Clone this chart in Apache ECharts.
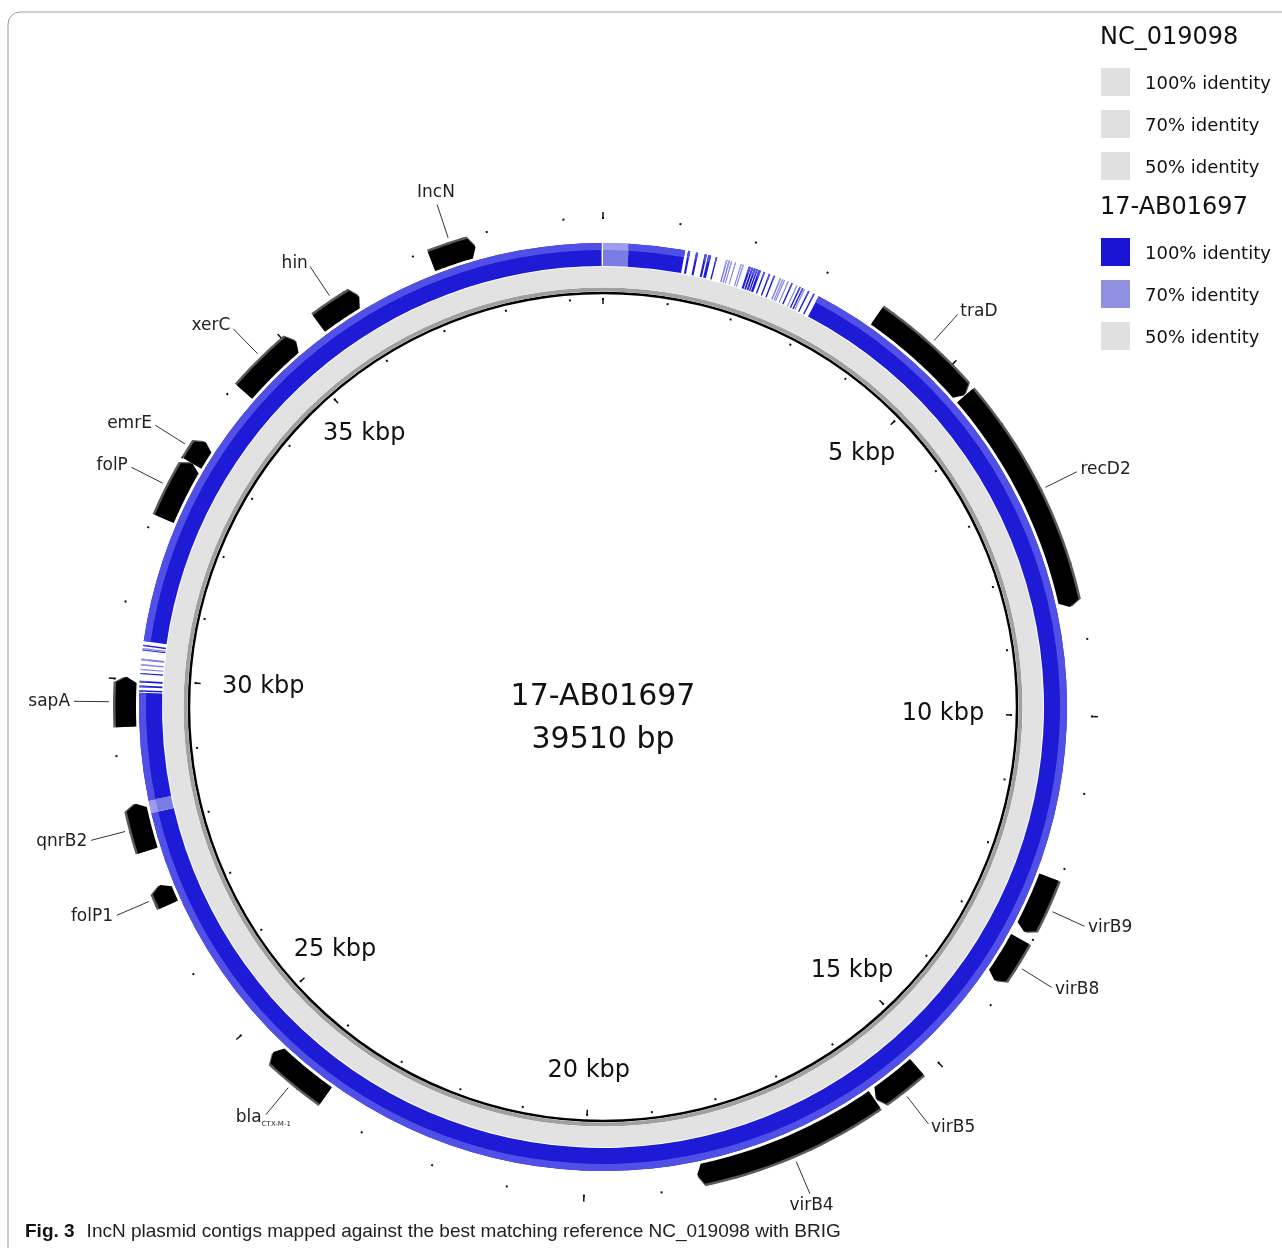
<!DOCTYPE html>
<head>
    <meta charset="utf-8">
    <title>IncN plasmid BRIG map</title>
    <style>
        html, body {
            width: 100%;
            height: 100%;
            margin: 0;
            background: #fff;
        }
        #main {
            width: 1282px;
            height: 1248px;
        }
    </style>
</head>
<body>
<div id="main"></div>
<script src="https://cdn.jsdelivr.net/npm/echarts@6/dist/echarts.min.js"></script>
<script type="text/javascript">
  var genomeLength = 39510;

  // NC_019098 ring (reference, drawn all grey)
  var refHits = [[0, 39510]];

  // 17-AB01697 ring: [start, end, identity %]
  var queryHits = [
    [0, 350, 70],
    [350, 1120, 100],
    [1160, 1190, 100], [1270, 1300, 100], [1390, 1420, 100], [1440, 1480, 100], [1545, 1565, 100],
    [1690, 1710, 70], [1725, 1745, 70], [1760, 1775, 70], [1815, 1830, 70], [1895, 1910, 70], [1925, 1940, 70],
    [2010, 2040, 100], [2050, 2075, 100], [2085, 2110, 100], [2120, 2140, 100], [2150, 2185, 100],
    [2225, 2245, 100], [2300, 2320, 100], [2370, 2390, 100],
    [2460, 2480, 70], [2495, 2510, 70], [2520, 2535, 70], [2575, 2590, 70],
    [2630, 2650, 100], [2705, 2720, 70], [2750, 2770, 100], [2790, 2810, 100], [2820, 2835, 70],
    [2880, 2900, 100], [2960, 2980, 100],
    [3040, 28180, 100],
    [28180, 28355, 70],
    [28355, 29825, 100],
    [29840, 29860, 100], [29900, 29925, 100], [29965, 29990, 100], [30080, 30095, 100],
    [30135, 30150, 70], [30195, 30215, 70], [30265, 30290, 70],
    [30400, 30415, 100], [30420, 30435, 70], [30460, 30480, 100],
    [30530, 39490, 100]
  ];

  // annotated genes (all drawn clockwise)
  var geneNames  = ['traD', 'recD2', 'virB9', 'virB8', 'virB5', 'virB4', 'blaCTX-M-1', 'folP1', 'qnrB2', 'sapA', 'folP', 'emrE', 'xerC', 'hin', 'IncN'];
  var geneStarts = [3840, 5410, 12170, 13070, 15245, 15950, 23650, 26945, 27710, 29370, 32180, 33000, 34165, 35500, 37200];
  var geneEnds   = [5400, 8550, 12960, 13710, 15930, 18505, 24550, 27230, 28350, 30030, 33000, 33330, 35120, 36140, 37810];

  var kbpTicks = [5000, 10000, 15000, 20000, 25000, 30000, 35000];

  var legendTitles = ['NC_019098', '17-AB01697'];
  var identityLevels = ['100% identity', '70% identity', '50% identity'];

  var center = [603, 707];
  var font = 'DejaVu Sans';
  var swatchColors = [
    ['#e0e0e0', '#e0e0e0', '#e0e0e0'],
    ['#1a14d4', '#9090e0', '#e0e0e0']
  ];

  var myChart = echarts.init(document.getElementById('main'));

  function angleOf(api, c, v) {
    var p = api.coord([100, v]);
    return Math.atan2(p[1] - c[1], p[0] - c[0]);
  }
  function radiusOf(api, c, r) {
    var p = api.coord([r, 0]);
    return Math.sqrt((p[0] - c[0]) * (p[0] - c[0]) + (p[1] - c[1]) * (p[1] - c[1]));
  }
  function sector(api, c, r0, r1, s, e, color) {
    var a0 = angleOf(api, c, s);
    var a1 = angleOf(api, c, e);
    if (e - s >= genomeLength) {
      a1 = a0 + Math.PI * 2;
    } else {
      while (a1 <= a0) a1 += Math.PI * 2;
    }
    return {
      type: 'sector',
      shape: {cx: c[0], cy: c[1], r0: radiusOf(api, c, r0), r: radiusOf(api, c, r1),
              startAngle: a0, endAngle: a1, clockwise: true},
      style: {fill: color}
    };
  }
  function arrowPoints(api, r0, r1, s, e) {
    var tip = Math.min(75, (e - s) * 0.35);
    var pts = [];
    var n = 24, i;
    for (i = 0; i <= n; i++) pts.push(api.coord([r1, s + (e - tip - s) * i / n]));
    pts.push(api.coord([(r0 + r1) / 2, e]));
    for (i = n; i >= 0; i--) pts.push(api.coord([r0, s + (e - tip - s) * i / n]));
    return pts;
  }

  function angleAxis(idx, interval, showLine, tickLen, inside, tickWidth) {
    return {
      polarIndex: idx,
      type: 'value',
      min: 0,
      max: genomeLength,
      interval: interval,
      startAngle: 90,
      clockwise: true,
      axisLine: {show: showLine, lineStyle: {color: '#000', width: 2.5}},
      axisTick: {show: tickLen > 0, inside: inside, length: tickLen, lineStyle: {color: '#111', width: tickWidth}},
      axisLabel: {show: false},
      splitLine: {show: false},
      splitArea: {show: false}
    };
  }
  function radiusAxis(idx, max) {
    return {
      polarIndex: idx, type: 'value', min: 0, max: max,
      axisLine: {show: false}, axisTick: {show: false}, axisLabel: {show: false},
      splitLine: {show: false}, splitArea: {show: false}
    };
  }

  // frame, centre title, caption and legend drawn as graphic
  var graphics = [{
    type: 'rect',
    shape: {x: 8, y: 12, width: 1300, height: 1270, r: 12},
    style: {fill: 'none', stroke: '#9a9a9a', lineWidth: 1}
  }, {
    type: 'text', x: 603, y: 719,
    style: {text: '17-AB01697\n39510 bp', align: 'center', verticalAlign: 'middle',
            fontSize: 30, lineHeight: 43, fontFamily: font, fill: '#111'}
  }, {
    type: 'text', x: 25, y: 1232,
    style: {
      text: '{b|Fig. 3}{n|IncN plasmid contigs mapped against the best matching reference NC_019098 with BRIG}',
      verticalAlign: 'middle',
      rich: {
        b: {fontSize: 19, fontWeight: 'bold', fontFamily: 'Liberation Sans', fill: '#111', padding: [0, 12, 0, 0]},
        n: {fontSize: 19, fontFamily: 'Liberation Sans', fill: '#222'}
      }
    }
  }];
  legendTitles.forEach(function (t, g) {
    var y0 = 38 + g * 170;
    graphics.push({
      type: 'text', x: 1100, y: y0,
      style: {text: t, fontSize: 24, fontFamily: font, fill: '#111', verticalAlign: 'middle'}
    });
    identityLevels.forEach(function (lab, k) {
      var yc = y0 + 44 + k * 42;
      graphics.push({
        type: 'rect', shape: {x: 1101, y: yc - 14, width: 29, height: 28},
        style: {fill: swatchColors[g][k]}
      });
      graphics.push({
        type: 'text', x: 1145, y: yc + 2,
        style: {text: lab, fontSize: 18, fontFamily: font, fill: '#111', verticalAlign: 'middle'}
      });
    });
  });

  var geneData = geneNames.map(function (n, i) {
    return [geneStarts[i], geneEnds[i], i];
  });

  option = {
    backgroundColor: '#fff',
    animation: false,
    polar: [
      {center: center, radius: 414},  // black backbone circle + rings
      {center: center, radius: 409},  // inner 5 kbp ticks
      {center: center, radius: 409},  // inner 1 kbp ticks
      {center: center, radius: 489},  // outer 5 kbp ticks
      {center: center, radius: 488}   // outer 1 kbp ticks
    ],
    angleAxis: [
      angleAxis(0, 5000, true, 0, true, 1),
      angleAxis(1, 5000, false, 6, true, 1.5),
      angleAxis(2, 1000, false, 2, true, 2),
      angleAxis(3, 5000, false, 6, false, 1.5),
      angleAxis(4, 1000, false, 2, false, 2)
    ],
    radiusAxis: [
      radiusAxis(0, 414), radiusAxis(1, 409), radiusAxis(2, 409),
      radiusAxis(3, 489), radiusAxis(4, 488)
    ],
    graphic: graphics,
    series: [
      {
        name: 'NC_019098',
        type: 'custom',
        coordinateSystem: 'polar',
        polarIndex: 0,
        silent: true,
        data: refHits,
        renderItem: function (params, api) {
          var c = api.coord([0, 0]);
          var s = api.value(0), e = api.value(1);
          return {type: 'group', children: [
            sector(api, c, 415.5, 419.5, s, e, '#a0a0a0'),
            sector(api, c, 419.5, 440, s, e, '#e2e2e2')
          ]};
        }
      },
      {
        name: '17-AB01697',
        type: 'custom',
        coordinateSystem: 'polar',
        polarIndex: 0,
        silent: true,
        data: queryHits,
        renderItem: function (params, api) {
          var c = api.coord([0, 0]);
          var s = api.value(0), e = api.value(1), id = api.value(2);
          var main = id >= 100 ? '#1d1bd6' : '#7b7be6';
          var edge = id >= 100 ? '#5050e6' : '#9d9dee';
          return {type: 'group', children: [
            sector(api, c, 441, 464, s, e, main),
            sector(api, c, 457, 464, s, e, edge)
          ]};
        }
      },
      {
        name: 'genes',
        type: 'custom',
        coordinateSystem: 'polar',
        polarIndex: 0,
        silent: true,
        data: geneData,
        renderItem: function (params, api) {
          var c = api.coord([0, 0]);
          var s = api.value(0), e = api.value(1);
          var name = geneNames[api.value(2)];
          var mid = (s + e) / 2;
          var pIn = api.coord([494, mid]);
          var pOut = api.coord([529, mid]);
          var pLab = api.coord([533, mid]);
          var d = radiusOf(api, c, 533);
          var sx = (pLab[0] - c[0]) / d, sy = (pLab[1] - c[1]) / d;
          var align, valign;
          if (Math.abs(sx) < 0.45) {
            align = 'center';
            valign = sy < 0 ? 'bottom' : 'top';
          } else {
            align = sx > 0 ? 'left' : 'right';
            valign = 'middle';
          }
          var textStyle = {fontSize: 17, fontFamily: font, fill: '#222', align: align, verticalAlign: valign};
          if (name.indexOf('bla') === 0) {
            textStyle.text = '{a|bla}{s|' + name.slice(3) + '}';
            textStyle.align = 'center';
            textStyle.rich = {
              a: {fontSize: 17, fontFamily: font, fill: '#222'},
              s: {fontSize: 7, fontFamily: font, fill: '#222', padding: [12, 0, 0, 0]}
            };
          } else {
            textStyle.text = name;
          }
          return {type: 'group', children: [
            {type: 'polygon', shape: {points: arrowPoints(api, 469, 490, s, e)}, style: {fill: '#5a5a5a'}},
            {type: 'polygon', shape: {points: arrowPoints(api, 467, 487.5, s, e)}, style: {fill: '#000'}},
            {type: 'line', shape: {x1: pIn[0], y1: pIn[1], x2: pOut[0], y2: pOut[1]},
             style: {stroke: '#333', lineWidth: 1}},
            {type: 'text', x: pLab[0], y: pLab[1], style: textStyle}
          ]};
        }
      },
      {
        name: 'kbp labels',
        type: 'custom',
        coordinateSystem: 'polar',
        polarIndex: 0,
        silent: true,
        data: kbpTicks.map(function (v) { return [v]; }),
        renderItem: function (params, api) {
          var c = api.coord([0, 0]);
          var v = api.value(0);
          var p0 = api.coord([100, v]);
          var sx = Math.abs((p0[0] - c[0]) / 100);
          var p = api.coord([364 - 24 * Math.pow(sx, 8), v]);
          return {
            type: 'text', x: p[0], y: p[1],
            style: {text: (v / 1000) + ' kbp', fontSize: 24, fontFamily: font, fill: '#111',
                    align: 'center', verticalAlign: 'middle'}
          };
        }
      }
    ]
  };
  myChart.setOption(option);
</script>
</body>
